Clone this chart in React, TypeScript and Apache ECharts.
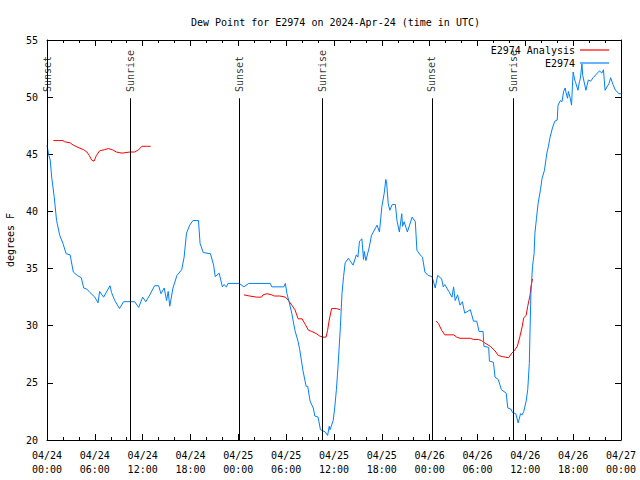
import React, { useEffect, useRef } from "react";
import * as echarts from "echarts";

const TITLE = "Dew Point for E2974 on 2024-Apr-24 (time in UTC)";
const FONT = "DejaVu Sans Mono";

// Hours since 2024-04-24 00:00 UTC
const blueHours = [0.0,0.2,0.4,0.6,0.9,1.2,1.6,2.0,2.4,2.9,3.3,3.8,4.3,4.6,5.0,5.4,6.0,6.4,6.6,7.1,7.9,8.1,8.5,9.1,9.6,10.4,11.0,11.5,12.0,12.4,12.9,13.5,14.0,14.3,14.7,15.0,15.2,15.4,15.8,16.3,16.9,17.2,17.5,17.9,18.3,19.0,19.2,19.6,20.5,20.9,21.1,21.6,21.7,22.0,22.2,22.5,22.7,24.1,24.7,25.3,28.0,28.2,29.7,29.9,30.1,30.4,30.7,31.1,31.5,31.7,32.1,32.5,32.7,33.0,33.4,33.6,34.0,34.3,34.9,35.2,35.4,35.5,35.9,36.1,36.3,36.5,36.8,37.0,37.2,37.4,37.8,38.0,38.4,38.8,39.0,39.2,39.5,39.7,39.8,40.0,40.4,40.7,41.4,41.7,42.0,42.3,42.5,42.6,42.8,43.0,43.3,43.7,43.9,44.2,44.5,44.6,44.8,45.2,45.8,46.2,46.4,46.8,47.1,47.4,47.8,48.3,48.7,49.0,49.5,49.7,49.9,50.4,50.8,51.0,51.2,51.5,51.8,52.1,52.4,53.1,53.5,53.9,54.2,54.7,54.8,55.4,55.5,56.0,56.2,56.6,57.0,57.6,57.8,58.2,58.4,58.8,59.1,59.4,59.6,59.8,60.1,60.3,60.5,60.6,60.7,60.9,61.1,61.2,61.4,61.6,61.9,62.1,62.4,62.6,62.7,62.9,63.1,63.4,63.7,64.0,64.1,64.4,64.6,64.8,65.0,65.1,65.3,65.4,65.6,65.8,65.9,66.0,66.2,66.3,66.6,66.8,66.9,67.1,67.2,67.6,67.9,68.2,68.5,68.9,69.3,69.6,69.8,70.0,70.5,70.7,71.0,71.3,71.5,71.7,72.0];
const blueValues = [45.8,45.0,44.5,42.9,41.3,39.2,37.9,37.2,36.3,36.2,34.7,34.4,34.2,33.3,33.2,32.9,32.5,32.0,33.0,32.5,33.5,32.9,32.2,31.5,32.1,32.1,32.1,31.6,32.5,32.1,32.7,33.5,33.5,32.8,33.3,32.2,33.0,31.7,33.3,34.4,34.9,36.0,38.1,38.8,39.2,39.2,37.2,36.4,36.3,35.3,34.3,34.6,34.3,33.4,33.6,33.4,33.7,33.7,33.4,33.7,33.7,33.4,33.4,33.7,32.8,32.0,31.1,29.6,28.6,27.9,26.1,24.7,24.7,23.4,22.8,22.1,22.0,20.9,20.7,20.4,21.2,20.9,21.7,22.9,24.4,26.4,29.9,32.8,34.3,35.5,35.9,35.7,35.3,36.2,36.0,37.4,37.6,35.8,36.5,35.7,36.8,37.9,38.8,38.2,40.4,41.6,42.8,42.5,40.7,40.1,40.6,40.6,39.2,38.2,39.8,38.7,39.1,38.2,39.5,39.1,36.6,36.2,36.0,34.7,34.4,34.3,33.3,34.4,34.1,33.4,33.6,33.0,32.5,33.4,32.2,32.7,31.8,32.1,31.1,31.4,30.4,30.4,29.5,29.5,28.2,28.1,26.9,26.8,25.5,25.3,24.4,24.1,22.8,22.7,22.4,22.3,21.5,22.3,22.2,22.5,23.4,24.4,26.7,29.9,32.8,35.2,36.3,38.1,39.4,40.7,41.9,42.9,43.6,44.6,45.1,45.7,46.5,47.3,47.9,48.0,49.3,49.7,49.6,50.5,50.8,50.4,49.9,50.5,50.0,49.3,50.9,52.2,51.5,51.3,50.6,51.4,51.6,52.9,51.9,50.6,51.5,51.4,51.7,52.0,52.3,52.1,52.4,50.6,51.2,51.7,51.1,50.6,50.5,50.3,50.3];

const redHours = [0.8,1.4,2.0,2.2,2.9,3.3,3.9,4.6,5.0,5.3,5.6,5.9,6.2,6.6,7.2,7.7,8.2,8.7,9.4,10.4,11.0,11.5,11.9,12.5,13.0,18.0,24.7,25.4,26.3,26.9,27.1,27.6,28.2,28.5,29.2,29.9,30.3,30.7,31.1,31.5,32.0,32.4,32.8,33.2,33.8,34.2,34.6,35.0,35.2,35.4,35.7,36.3,36.8,42.0,48.8,49.1,49.5,49.9,51.0,51.4,51.8,53.1,53.5,54.1,54.5,54.9,55.6,56.2,56.6,57.1,57.9,58.3,58.6,59.0,59.3,59.6,59.8,60.1,60.3,60.6,60.7,60.9];
const redValues = [46.2,46.2,46.2,46.1,46.0,45.8,45.6,45.4,45.2,44.9,44.5,44.4,44.9,45.3,45.4,45.5,45.4,45.2,45.1,45.2,45.2,45.4,45.7,45.7,45.7,null,32.7,32.6,32.5,32.5,32.7,32.8,32.7,32.6,32.6,32.5,32.2,31.8,31.4,30.6,30.6,30.1,29.6,29.5,29.3,29.1,29.0,29.0,29.6,30.5,31.5,31.5,31.4,null,30.4,30.2,29.6,29.2,29.2,29.0,28.9,28.9,28.8,28.8,28.7,28.5,28.2,27.8,27.4,27.3,27.2,27.6,27.8,28.2,29.0,29.9,30.7,30.9,31.7,32.7,33.4,34.1];

const eventHours = [0.05, 10.45, 24.1, 34.55, 48.27, 58.5];
const eventLabels = ["Sunset", "Sunrise", "Sunset", "Sunrise", "Sunset", "Sunrise"];
const eventLineTop = 49.9;
const eventLabelY = 50.45;

const yTicks = { min: 20, max: 55, interval: 5 };
const xTicks = { min: 0, max: 72, interval: 6 };

const pad = (n: number) => (n < 10 ? "0" + n : "" + n);
const fmtX = (v: number) => {
  const day = 24 + Math.floor(v / 24);
  const h = Math.round(v % 24);
  return `04/${day}\n${pad(h)}:00`;
};

export default function App() {
  const ref = useRef<HTMLDivElement>(null);
  useEffect(() => {
    if (!ref.current) return;
    const chart = echarts.init(ref.current, null, { renderer: "svg" });
    const axisLine = { show: true, onZero: false, lineStyle: { color: "#000", width: 1 } };
    const text = { fontFamily: FONT, fontSize: 10, color: "#000" };
    const xBase = {
      type: "value",
      min: xTicks.min,
      max: xTicks.max,
      interval: xTicks.interval,
      axisLine,
      axisTick: { show: true, inside: true, length: 6, lineStyle: { color: "#000" } },
      minorTick: { show: true, splitNumber: 3, length: 3, lineStyle: { color: "#000" } },
      splitLine: { show: false },
    };
    const yBase = {
      type: "value",
      min: yTicks.min,
      max: yTicks.max,
      interval: yTicks.interval,
      axisLine,
      axisTick: { show: true, inside: true, length: 6, lineStyle: { color: "#000" } },
      splitLine: { show: false },
    };
    const option: any = {
      animation: false,
      backgroundColor: "#fff",
      textStyle: text,
      title: {
        text: TITLE,
        left: 186,
        top: 12,
        textStyle: { ...text, fontWeight: "normal" },
      },
      legend: {
        orient: "vertical",
        right: 31,
        top: 45,
        padding: 0,
        align: "right",
        icon: "rect",
        itemWidth: 29,
        itemHeight: 1.2,
        itemGap: 3,
        data: ["E2974 Analysis", "E2974"],
        textStyle: { ...text, lineHeight: 10, padding: [0, 0, 0, 0] },
      },
      grid: { left: 47, right: 19, top: 40, bottom: 40, outerBoundsMode: "none", containLabel: false },
      xAxis: [
        {
          ...xBase,
          position: "bottom",
          axisLabel: { ...text, margin: 8, lineHeight: 14, formatter: fmtX },
        },
        { ...xBase, position: "top", axisLabel: { show: false } },
      ],
      yAxis: [
        {
          ...yBase,
          position: "left",
          axisLabel: { ...text, margin: 9 },
          name: "degrees F",
          nameLocation: "middle",
          nameGap: 32,
          nameTextStyle: text,
        },
        { ...yBase, position: "right", axisLabel: { show: false } },
      ],
      series: [
        {
          name: "E2974 Analysis",
          type: "line",
          symbol: "none",
          connectNulls: false,
          color: "#ff0000",
          lineStyle: { color: "#ff0000", width: 1 },
          data: redHours.map((h, i) => [h, redValues[i] === null ? "-" : redValues[i]]),
          z: 3,
        },
        {
          name: "E2974",
          type: "line",
          symbol: "none",
          color: "#0080ff",
          lineStyle: { color: "#0080ff", width: 1 },
          data: blueHours.map((h, i) => [h, blueValues[i]]),
          z: 3,
        },
        {
          name: "events",
          type: "scatter",
          symbolSize: 0,
          silent: true,
          data: eventHours.map((h, i) => ({ value: [h, eventLabelY], name: eventLabels[i] })),
          label: {
            show: true,
            formatter: "{b}",
            position: [0, 0],
            align: "left",
            verticalAlign: "middle",
            rotate: 90,
            ...text,
          },
          markLine: {
            silent: true,
            symbol: ["none", "none"],
            label: { show: false },
            lineStyle: { color: "#000", width: 1, type: "solid" },
            data: eventHours.map((h) => [{ coord: [h, yTicks.min] }, { coord: [h, eventLineTop] }]),
          },
          z: 2,
        },
      ],
    };
    chart.setOption(option);
    return () => chart.dispose();
  }, []);
  return (
    <div
      ref={ref}
      style={{ position: "fixed", left: 0, top: 0, width: 640, height: 480, background: "#fff" }}
    />
  );
}
